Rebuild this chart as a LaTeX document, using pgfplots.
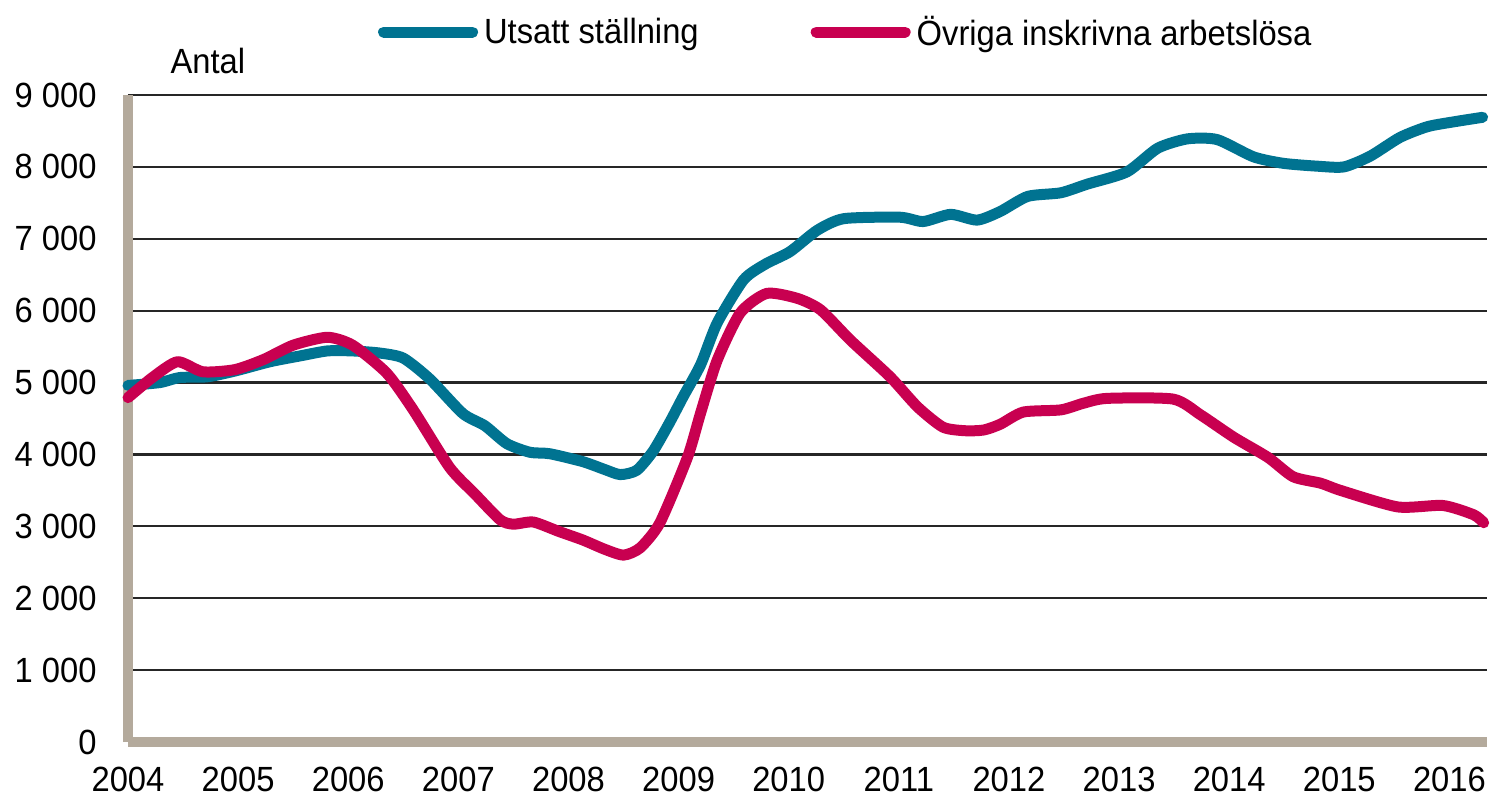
\documentclass[border=0pt]{standalone}
\usepackage{fontspec}
\setmainfont{Liberation Sans}[FakeStretch=0.935]
\usepackage{pgfplots}
\pgfplotsset{compat=1.18}
\definecolor{teal1}{RGB}{0,115,145}
\definecolor{red1}{RGB}{200,0,80}
\definecolor{axisgray}{RGB}{180,170,156}
\begin{document}
\begin{tikzpicture}
\useasboundingbox (-64bp,-27.5bp) rectangle (683bp,371bp);
\begin{axis}[
  scale only axis,
  width=679.5bp, height=323.5bp,
  xmin=2004, xmax=2016.34,
  ymin=0, ymax=9000,
  clip=false,
  axis x line=bottom, axis y line=left,
  axis line style={-, color=axisgray, line width=4.8bp},
  major tick length=0pt,
  ytick={0,1000,...,9000},
  yticklabels={0,{1 000},{2 000},{3 000},{4 000},{5 000},{6 000},{7 000},{8 000},{9 000}},
  xtick={2004,...,2016},
  xticklabels={2004,2005,2006,2007,2008,2009,2010,2011,2012,2013,2014,2015,2016},
  ymajorgrids,
  grid style={black!85, line width=1.1bp},
  tick label style={font=\fontsize{17.5bp}{21bp}\selectfont, inner sep=0pt},
  yticklabel style={anchor=east, xshift=-15.5bp},
  xticklabel style={anchor=north, yshift=-12.5bp},
  legend columns=2,
  legend cell align=left,
  legend style={draw=none, fill=none, at={(0.184,1.0974)}, anchor=west, inner sep=0pt, outer sep=0pt,
    font=\fontsize{17.5bp}{21bp}\selectfont,
    nodes={inner sep=0pt},
    /tikz/every odd column/.append style={column sep=3bp},
    /tikz/every even column/.append style={column sep=56bp}},
  legend image code/.code={\draw[#1, line width=5.5bp, line cap=round] (2.75bp,0bp) -- (47.25bp,0bp);},
]
\addplot[teal1, line width=5.5bp, line join=round, line cap=round, smooth, tension=0.4] coordinates {
(2004.00,4960)(2004.29,5000)(2004.47,5070)(2004.72,5080)(2004.97,5160)(2005.29,5290)(2005.56,5370)(2005.81,5440)(2006.04,5440)(2006.29,5410)(2006.50,5340)(2006.74,5050)(2007.04,4570)(2007.24,4400)(2007.44,4150)(2007.65,4030)(2007.83,4010)(2008.13,3900)(2008.33,3790)(2008.47,3720)(2008.62,3780)(2008.77,4050)(2008.92,4450)(2009.04,4800)(2009.20,5250)(2009.35,5830)(2009.59,6430)(2009.79,6650)(2010.01,6820)(2010.26,7120)(2010.50,7280)(2011.01,7300)(2011.22,7240)(2011.47,7340)(2011.71,7260)(2011.92,7380)(2012.17,7590)(2012.47,7640)(2012.71,7760)(2013.07,7930)(2013.35,8260)(2013.62,8390)(2013.89,8380)(2014.22,8140)(2014.49,8050)(2014.80,8010)(2015.04,8000)(2015.28,8150)(2015.55,8410)(2015.80,8560)(2016.05,8630)(2016.30,8690)
};
\addlegendentry{Utsatt ställning}
\addplot[red1, line width=5.5bp, line join=round, line cap=round, smooth, tension=0.4] coordinates {
(2004.00,4790)(2004.23,5080)(2004.45,5290)(2004.68,5150)(2004.97,5180)(2005.23,5320)(2005.50,5520)(2005.81,5630)(2006.04,5520)(2006.35,5130)(2006.59,4620)(2006.92,3820)(2007.15,3450)(2007.38,3090)(2007.50,3030)(2007.68,3060)(2007.91,2930)(2008.13,2810)(2008.33,2680)(2008.50,2600)(2008.65,2700)(2008.83,3050)(2009.08,3960)(2009.20,4580)(2009.35,5310)(2009.56,5970)(2009.80,6240)(2010.08,6170)(2010.29,6010)(2010.56,5590)(2010.92,5080)(2011.17,4660)(2011.40,4380)(2011.60,4330)(2011.77,4340)(2011.92,4420)(2012.13,4590)(2012.47,4620)(2012.67,4710)(2012.89,4780)(2013.49,4770)(2013.74,4550)(2014.04,4240)(2014.35,3960)(2014.58,3690)(2014.83,3600)(2015.01,3500)(2015.53,3270)(2015.94,3290)(2016.22,3160)(2016.31,3050)
};
\addlegendentry{Övriga inskrivna arbetslösa}
\node[anchor=west, inner sep=0pt, font=\fontsize{17.5bp}{21bp}\selectfont] at (rel axis cs:0.031,1.0525) {Antal};
\end{axis}
\end{tikzpicture}
\end{document}
